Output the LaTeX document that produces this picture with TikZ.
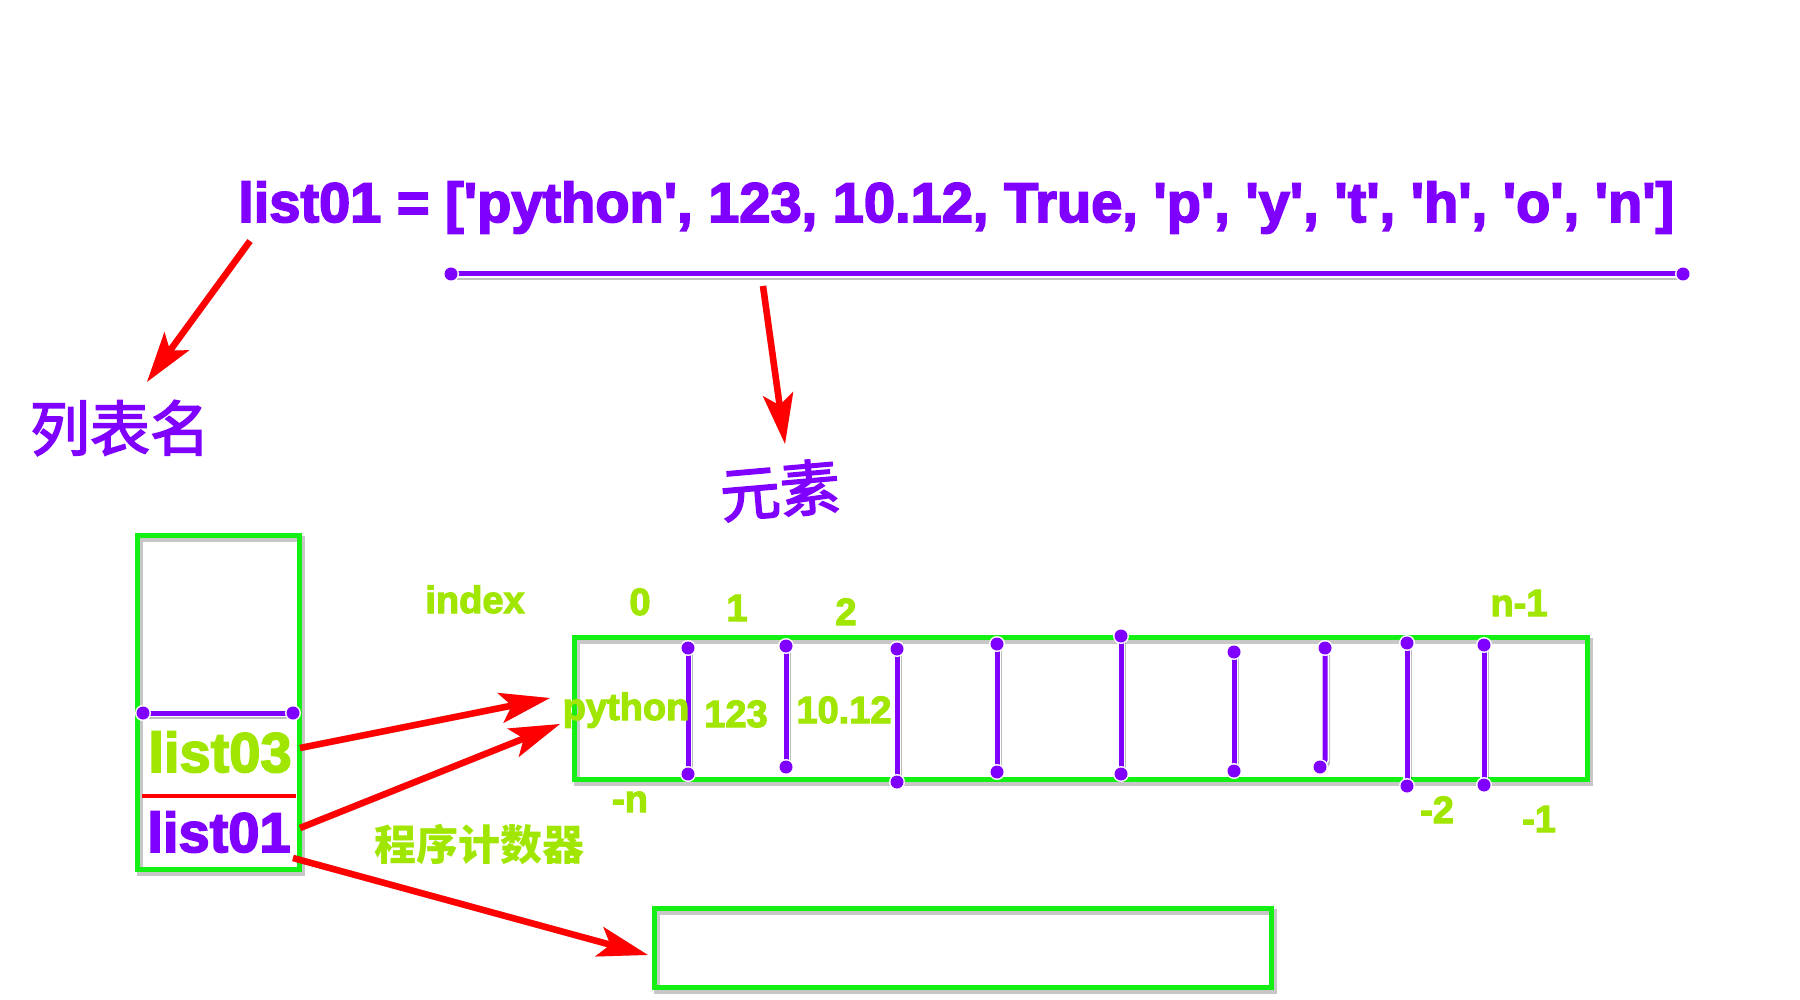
\documentclass[tikz,border=0pt]{standalone}
\usepackage{fontspec}
\setmainfont{Liberation Sans}[Ligatures=TeXOff,BoldFeatures={FakeBold=3}]
\newfontfamily\cjk{Noto Sans CJK SC}[FakeBold=2.5]
\newfontfamily\cjkb{Noto Sans CJK SC}
\usetikzlibrary{arrows.meta}
\definecolor{purp}{RGB}{128,0,255}
\definecolor{limetxt}{RGB}{160,230,0}
\definecolor{boxg}{RGB}{20,240,20}
\definecolor{redar}{RGB}{255,0,0}
\newcommand\sepbar[4]{% x top, y top, x bottom, y bottom
  \draw[black,opacity=.25,line width=6pt,line cap=round] (#1+2,#2+3)--(#3+2,#4+3);
  \draw[white,line width=8pt,line cap=round] (#1,#2)--(#3,#4);
  \draw[purp,line width=5pt,line cap=round] (#1,#2)--(#3,#4);
  \fill[white] (#1,#2) circle (8) (#3,#4) circle (8);
  \fill[purp] (#1,#2) circle (6.5) (#3,#4) circle (6.5);
}
\begin{document}
\begin{tikzpicture}[x=1pt,y=-1pt,
  gbox/.style={draw=boxg,line width=5pt},
  gshad/.style={draw=black,opacity=.22,line width=6pt},
  bigp/.style={text=purp,inner sep=0pt,font=\fontsize{56}{60}\selectfont\bfseries},
  bigg/.style={text=limetxt,inner sep=0pt,font=\fontsize{56}{60}\selectfont\bfseries},
  lbl/.style={text=limetxt,inner sep=0pt,font=\fontsize{38}{42}\selectfont\bfseries},
  cell/.style={text=limetxt,inner sep=0pt,font=\fontsize{38}{40}\selectfont\bfseries},
  cjkp/.style={text=purp,inner sep=0pt,font=\fontsize{60}{64}\selectfont\cjk},
  redarrow/.style={draw=redar,line width=6.5pt,-{Stealth[length=50pt,width=30pt,inset=11pt]}},
  arshad/.style={draw=black,opacity=.2,line width=6.5pt,-{Stealth[length=50pt,width=30pt,inset=11pt]},shift={(3,4)}}
]
\fill[white] (0,0) rectangle (1800,1000);
\useasboundingbox (0,0) rectangle (1800,1000);

% title
\node[bigp,anchor=base west] (title) at (238,222) {list01 = ['python', 123, 10.12, True, 'p', 'y', 't', 'h', 'o', 'n']};

% purple bar under title
\coordinate (barL) at (451,274);
\coordinate (barR) at (1683,274);
\draw[black,opacity=.25,line width=6pt,line cap=round] ([shift={(2,3)}]barL)--([shift={(2,3)}]barR);
\draw[white,line width=8pt,line cap=round] (barL)--(barR);
\draw[purp,line width=5pt,line cap=round] (barL)--(barR);
\fill[white] (barL) circle (8) (barR) circle (8);
\fill[purp] (barL) circle (6.5) (barR) circle (6.5);

% labels
\node[cjkp] (lname) at (120,428) {列表名};
\node[cjkp,rotate=5] (elem) at (780,490) {元素};

% arrows from title
\coordinate (a1s) at (250,241);
\coordinate (a1e) at (147,382);
\coordinate (a2s) at (763,286);
\coordinate (a2e) at (785,444);
\draw[arshad] (a1s)--(a1e);
\draw[redarrow] (a1s)--(a1e);
\draw[arshad] (a2s)--(a2e);
\draw[redarrow] (a2s)--(a2e);

% stack box
\draw[gshad] (140,539) rectangle (302,873);
\draw[gbox] (137,535) rectangle (299,869);
\coordinate (stL) at (143,713);
\coordinate (stR) at (293,713);
\draw[black,opacity=.25,line width=6pt,line cap=round] ([shift={(2,3)}]stL)--([shift={(2,3)}]stR);
\draw[white,line width=8pt,line cap=round] (stL)--(stR);
\draw[purp,line width=5pt,line cap=round] (stL)--(stR);
\fill[white] (stL) circle (8) (stR) circle (8);
\fill[purp] (stL) circle (6.5) (stR) circle (6.5);
\draw[redar,line width=3.5pt] (142,796)--(296,796);
\node[bigg,anchor=base] (l03) at (220,772) {list03};
\node[bigp,anchor=base] (l01) at (219,852) {list01};

% index labels
\node[lbl,anchor=base] (idx) at (475,613) {index};
\node[lbl,anchor=base] (i0) at (640,615) {0};
\node[lbl,anchor=base] (i1) at (737,621) {1};
\node[lbl,anchor=base] (i2) at (846,625) {2};
\node[lbl,anchor=base] (in1) at (1519,616) {n-1};
\node[lbl,anchor=base] (im) at (630,812) {-n};
\node[lbl,anchor=base] (im2) at (1437,823) {-2};
\node[lbl,anchor=base] (im1) at (1539,832) {-1};

% array box
\draw[gshad] (577,641) rectangle (1590,783);
\draw[gbox] (574,637) rectangle (1587,779);
\sepbar{688}{648}{688}{774}
\sepbar{786}{646}{786}{767}
\sepbar{897}{649}{897}{782}
\sepbar{997}{644}{997}{772}
\sepbar{1121}{636}{1121}{774}
\sepbar{1234}{652}{1234}{771}
\draw[black,opacity=.25,line width=6pt,line cap=round] (1327,651)--(1327,763)--(1322,770);
\draw[white,line width=8pt,line cap=round,line join=round] (1325,648)--(1325,760)--(1320,767);
\draw[purp,line width=5pt,line cap=round,line join=round] (1325,648)--(1325,760)--(1320,767);
\fill[white] (1325,648) circle (8) (1320,767) circle (8);
\fill[purp] (1325,648) circle (6.5) (1320,767) circle (6.5);
\sepbar{1407}{643}{1407}{786}
\sepbar{1484}{645}{1484}{785}

\node[cell,anchor=base] (cpy) at (626,720) {python};
\node[cell,anchor=base] (c123) at (736,727) {123};
\node[cell,anchor=base] (c1012) at (844,723) {10.12};

% program counter
\node[text=limetxt,inner sep=0pt,font=\fontsize{42}{46}\selectfont\cjkb\bfseries] (pc) at (479,844) {程序计数器};

% bottom box
\draw[gshad] (657,912) rectangle (1274,991);
\draw[gbox] (654,908) rectangle (1271,987);

% arrows from stack
\coordinate (a3s) at (300,748);
\coordinate (a3e) at (550,698);
\coordinate (a4s) at (300,828);
\coordinate (a4e) at (560,724);
\coordinate (a5s) at (293,858);
\coordinate (a5e) at (648,955);
\draw[arshad] (a3s)--(a3e);
\draw[redarrow] (a3s)--(a3e);
\draw[arshad] (a4s)--(a4e);
\draw[redarrow] (a4s)--(a4e);
\draw[arshad] (a5s)--(a5e);
\draw[redarrow] (a5s)--(a5e);
\end{tikzpicture}
\end{document}
